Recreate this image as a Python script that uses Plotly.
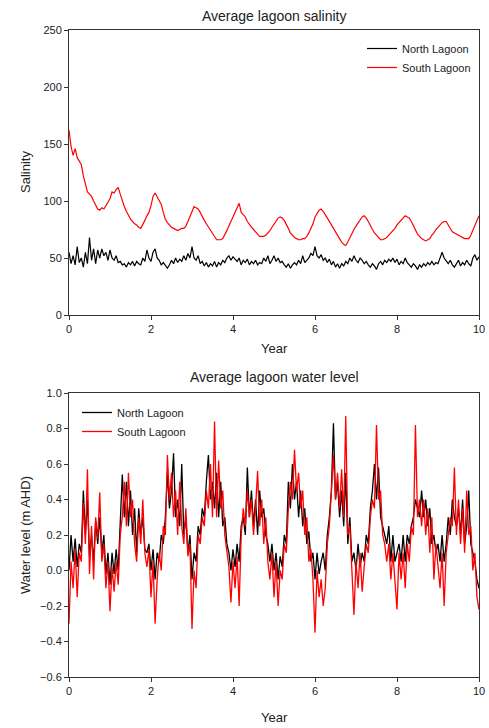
import numpy as np
import plotly.graph_objects as go

# time axis: 0.05-year steps from 0 to 10
years = np.round(np.arange(201) * 0.05, 2)

sal_north = [55, 45, 52, 44, 60, 46, 50, 42, 55, 45, 68, 48, 58, 45, 57, 50, 58, 52, 55, 48,
             57, 50, 48, 52, 46, 47, 44, 45, 42, 46, 44, 47, 43, 47, 45, 44, 50, 47, 57, 50,
             47, 55, 58, 50, 48, 44, 46, 43, 41, 44, 48, 45, 50, 46, 49, 47, 52, 48, 54, 50,
             60, 50, 48, 52, 45, 47, 43, 46, 42, 45, 43, 47, 42, 46, 44, 48, 46, 50, 52, 48,
             51, 49, 47, 50, 44, 48, 46, 49, 44, 47, 45, 48, 44, 46, 45, 50, 47, 52, 45, 48,
             52, 47, 50, 46, 47, 44, 42, 45, 41, 44, 46, 44, 48, 45, 52, 46, 48, 50, 54, 52,
             60, 52, 50, 53, 48, 50, 46, 49, 44, 47, 42, 45, 41, 45, 43, 47, 45, 50, 47, 52,
             48, 46, 50, 48, 45, 47, 44, 42, 45, 43, 40, 45, 47, 44, 48, 46, 49, 47, 50, 46,
             49, 44, 47, 45, 50, 46, 44, 42, 45, 43, 40, 44, 42, 45, 43, 46, 44, 47, 44, 46,
             45, 50, 55, 50, 47, 45, 48, 44, 42, 45, 48, 43, 46, 44, 48, 45, 43, 50, 53, 48,
             51]

sal_south = [162, 148, 140, 146, 138, 135, 132, 122, 115, 108, 106, 104, 100, 96, 93, 92, 94, 93, 96, 99,
             102, 108, 107, 110, 112, 106, 100, 95, 91, 87, 84, 82, 80, 79, 77, 76, 79, 83, 87, 90,
             96, 104, 107, 104, 100, 97, 90, 84, 81, 79, 77, 76, 75, 74, 75, 76, 76, 78, 82, 86,
             91, 95, 94, 93, 90, 86, 83, 80, 77, 74, 71, 68, 66, 66, 66, 67, 70, 74, 78, 82,
             86, 90, 93, 98, 90, 88, 86, 82, 79, 77, 75, 73, 71, 69, 69, 69, 70, 72, 74, 77,
             80, 83, 85, 86, 85, 83, 80, 76, 72, 70, 68, 67, 66, 66, 67, 67, 69, 72, 76, 80,
             86, 89, 92, 93, 91, 88, 85, 81, 78, 75, 72, 69, 66, 64, 62, 61, 64, 68, 72, 75,
             78, 81, 84, 86, 87, 85, 82, 78, 75, 72, 70, 68, 66, 66, 67, 68, 70, 72, 74, 76,
             79, 81, 83, 85, 87, 86, 85, 82, 78, 74, 71, 69, 67, 66, 65, 66, 67, 70, 72, 75,
             77, 79, 81, 82, 82, 79, 76, 73, 72, 71, 70, 69, 68, 67, 67, 67, 70, 74, 78, 82,
             87]

wl_north = [0.00, 0.20, 0.05, 0.18, 0.02, 0.15, 0.10, 0.45, 0.20, 0.40, 0.08, 0.20, 0.05, 0.28, 0.15, 0.30, 0.10, 0.20, -0.02, 0.10,
            -0.08, 0.10, -0.02, 0.12, 0.00, 0.25, 0.54, 0.30, 0.50, 0.25, 0.45, 0.20, 0.35, 0.10, 0.35, 0.20, 0.30, 0.12, 0.10, 0.15,
            0.00, 0.12, -0.05, 0.10, 0.05, 0.20, 0.15, 0.30, 0.55, 0.35, 0.45, 0.66, 0.30, 0.40, 0.25, 0.60, 0.20, 0.30, 0.10, 0.20,
            -0.05, 0.10, 0.05, 0.25, 0.20, 0.35, 0.30, 0.50, 0.65, 0.40, 0.50, 0.35, 0.55, 0.30, 0.50, 0.25, 0.30, 0.15, 0.10, 0.00,
            0.12, 0.02, 0.15, 0.05, 0.25, 0.30, 0.20, 0.58, 0.30, 0.45, 0.25, 0.40, 0.20, 0.45, 0.30, 0.35, 0.20, 0.15, 0.05, 0.15,
            0.00, 0.10, -0.05, 0.08, 0.02, 0.20, 0.15, 0.50, 0.35, 0.60, 0.40, 0.50, 0.30, 0.45, 0.25, 0.35, 0.15, 0.22, 0.05, 0.10,
            -0.05, 0.10, -0.02, 0.05, 0.10, 0.00, 0.20, 0.30, 0.45, 0.83, 0.40, 0.50, 0.30, 0.45, 0.25, 0.55, 0.15, 0.30, 0.05, 0.10,
            0.00, 0.15, 0.02, 0.10, 0.05, 0.20, 0.15, 0.35, 0.45, 0.60, 0.40, 0.58, 0.30, 0.25, 0.20, 0.15, 0.25, 0.05, 0.20, 0.05,
            0.10, 0.15, 0.05, 0.20, 0.05, 0.20, 0.15, 0.25, 0.30, 0.40, 0.35, 0.30, 0.45, 0.30, 0.40, 0.25, 0.35, 0.15, 0.20, 0.10,
            0.15, 0.05, 0.20, 0.05, 0.15, 0.30, 0.20, 0.40, 0.30, 0.25, 0.35, 0.20, 0.40, 0.15, 0.25, 0.45, 0.15, 0.10, 0.05, -0.05,
            -0.10]

wl_south = [-0.30, 0.05, -0.10, 0.12, -0.15, 0.10, 0.05, 0.38, 0.15, 0.57, -0.02, 0.25, -0.05, 0.30, 0.18, 0.44, 0.05, 0.15, -0.10, 0.05,
            -0.23, 0.02, -0.12, 0.05, -0.08, 0.20, 0.30, 0.50, 0.25, 0.55, 0.30, 0.40, 0.15, 0.05, 0.30, 0.15, 0.40, 0.10, 0.02, 0.12,
            -0.15, 0.05, -0.30, -0.05, 0.10, 0.00, 0.25, 0.20, 0.65, 0.40, 0.55, 0.30, 0.45, 0.20, 0.50, 0.25, 0.15, 0.35, 0.08, 0.15,
            -0.33, 0.00, -0.10, 0.20, 0.15, 0.30, 0.25, 0.45, 0.35, 0.60, 0.30, 0.84, 0.30, 0.62, 0.35, 0.45, 0.20, 0.10, 0.02, -0.18,
            0.05, -0.10, 0.08, -0.20, 0.20, 0.35, 0.25, 0.45, 0.30, 0.40, 0.20, 0.35, 0.56, 0.25, 0.40, 0.15, 0.30, 0.05, -0.05, 0.10,
            -0.15, 0.05, -0.20, 0.00, -0.05, 0.15, 0.10, 0.35, 0.50, 0.40, 0.68, 0.45, 0.55, 0.35, 0.45, 0.20, 0.30, 0.05, 0.12, -0.05,
            -0.35, 0.00, -0.15, -0.05, -0.20, -0.10, 0.15, 0.25, 0.45, 0.65, 0.40, 0.55, 0.35, 0.57, 0.30, 0.87, 0.20, 0.25, 0.00, -0.25,
            0.05, -0.10, 0.10, -0.12, 0.02, 0.15, 0.10, 0.30, 0.40, 0.35, 0.82, 0.40, 0.45, 0.20, 0.15, 0.05, 0.15, -0.05, 0.10, -0.05,
            -0.22, 0.10, -0.05, 0.10, -0.10, 0.15, 0.05, 0.25, 0.20, 0.82, 0.30, 0.40, 0.25, 0.40, 0.20, 0.35, 0.10, 0.30, -0.05, 0.15,
            0.00, -0.10, 0.10, -0.20, 0.10, 0.20, 0.30, 0.25, 0.58, 0.20, 0.40, 0.15, 0.35, 0.10, 0.45, 0.20, 0.25, 0.00, 0.10, -0.15,
            -0.22]

names = ["North Lagoon", "South Lagoon"]
colors = ["#000000", "#ff0000"]
sal_ticks = [0, 50, 100, 150, 200, 250]
wl_ticks = [-0.6, -0.4, -0.2, 0.0, 0.2, 0.4, 0.6, 0.8, 1.0]
x_ticks = [0, 2, 4, 6, 8, 10]

W, H = 489, 728
FONT = "Liberation Sans, Arial, sans-serif"
TXT = "#222222"

fig = go.Figure()
fig.add_trace(go.Scatter(x=years, y=sal_north, mode="lines", name=names[0],
                         line=dict(color=colors[0], width=1.2), xaxis="x", yaxis="y", legend="legend"))
fig.add_trace(go.Scatter(x=years, y=sal_south, mode="lines", name=names[1],
                         line=dict(color=colors[1], width=1.2), xaxis="x", yaxis="y", legend="legend"))
fig.add_trace(go.Scatter(x=years, y=wl_north, mode="lines", name=names[0],
                         line=dict(color=colors[0], width=1.3), xaxis="x2", yaxis="y2", legend="legend2"))
fig.add_trace(go.Scatter(x=years, y=wl_south, mode="lines", name=names[1],
                         line=dict(color=colors[1], width=1.3), xaxis="x2", yaxis="y2", legend="legend2"))

x0, x1 = 69 / W, 479 / W
top_dom = [1 - 315 / H, 1 - 30 / H]
bot_dom = [1 - 677 / H, 1 - 393 / H]

axis_common = dict(showline=True, linecolor="#333333", linewidth=1, mirror=True,
                   ticks="outside", ticklen=4, tickcolor="#333333", showgrid=False,
                   zeroline=False, automargin=False,
                   tickfont=dict(family=FONT, size=11, color=TXT))

fig.update_layout(
    template="none",
    width=W, height=H, margin=dict(l=0, r=0, t=0, b=0, pad=0, autoexpand=False),
    paper_bgcolor="white", plot_bgcolor="white",
    font=dict(family=FONT, color=TXT),
    xaxis=dict(domain=[x0, x1], range=[0, 10], tickvals=x_ticks, anchor="y", **axis_common),
    yaxis=dict(domain=top_dom, range=[0, 250], tickvals=sal_ticks, anchor="x", **axis_common),
    xaxis2=dict(domain=[x0, x1], range=[0, 10], tickvals=x_ticks, anchor="y2", **axis_common),
    yaxis2=dict(domain=bot_dom, range=[-0.6, 1.0], tickvals=wl_ticks, tickformat=".1f",
                anchor="x2", **axis_common),
    legend=dict(x=362 / W, y=1 - 34 / H, xanchor="left", yanchor="top",
                bgcolor="rgba(0,0,0,0)", font=dict(family=FONT, size=11, color=TXT),
                tracegroupgap=0, itemwidth=30),
    legend2=dict(x=77 / W, y=1 - 398 / H, xanchor="left", yanchor="top",
                 bgcolor="rgba(0,0,0,0)", font=dict(family=FONT, size=11, color=TXT),
                 tracegroupgap=0, itemwidth=30),
    showlegend=True,
)

ann = dict(xref="paper", yref="paper", showarrow=False, xanchor="center", yanchor="middle")
fig.add_annotation(text="Average lagoon salinity", x=274 / W, y=1 - 16 / H,
                   font=dict(family=FONT, size=14, color=TXT), **ann)
fig.add_annotation(text="Average lagoon water level", x=274 / W, y=1 - 377 / H,
                   font=dict(family=FONT, size=14, color=TXT), **ann)
fig.add_annotation(text="Year", x=274 / W, y=1 - 348 / H,
                   font=dict(family=FONT, size=13, color=TXT), **ann)
fig.add_annotation(text="Year", x=274 / W, y=1 - 717 / H,
                   font=dict(family=FONT, size=13, color=TXT), **ann)
fig.add_annotation(text="Salinity", x=25 / W, y=1 - 172 / H, textangle=-90,
                   font=dict(family=FONT, size=13, color=TXT), **ann)
fig.add_annotation(text="Water level (m AHD)", x=25 / W, y=1 - 535 / H, textangle=-90,
                   font=dict(family=FONT, size=13, color=TXT), **ann)

fig.write_html("out.html")
